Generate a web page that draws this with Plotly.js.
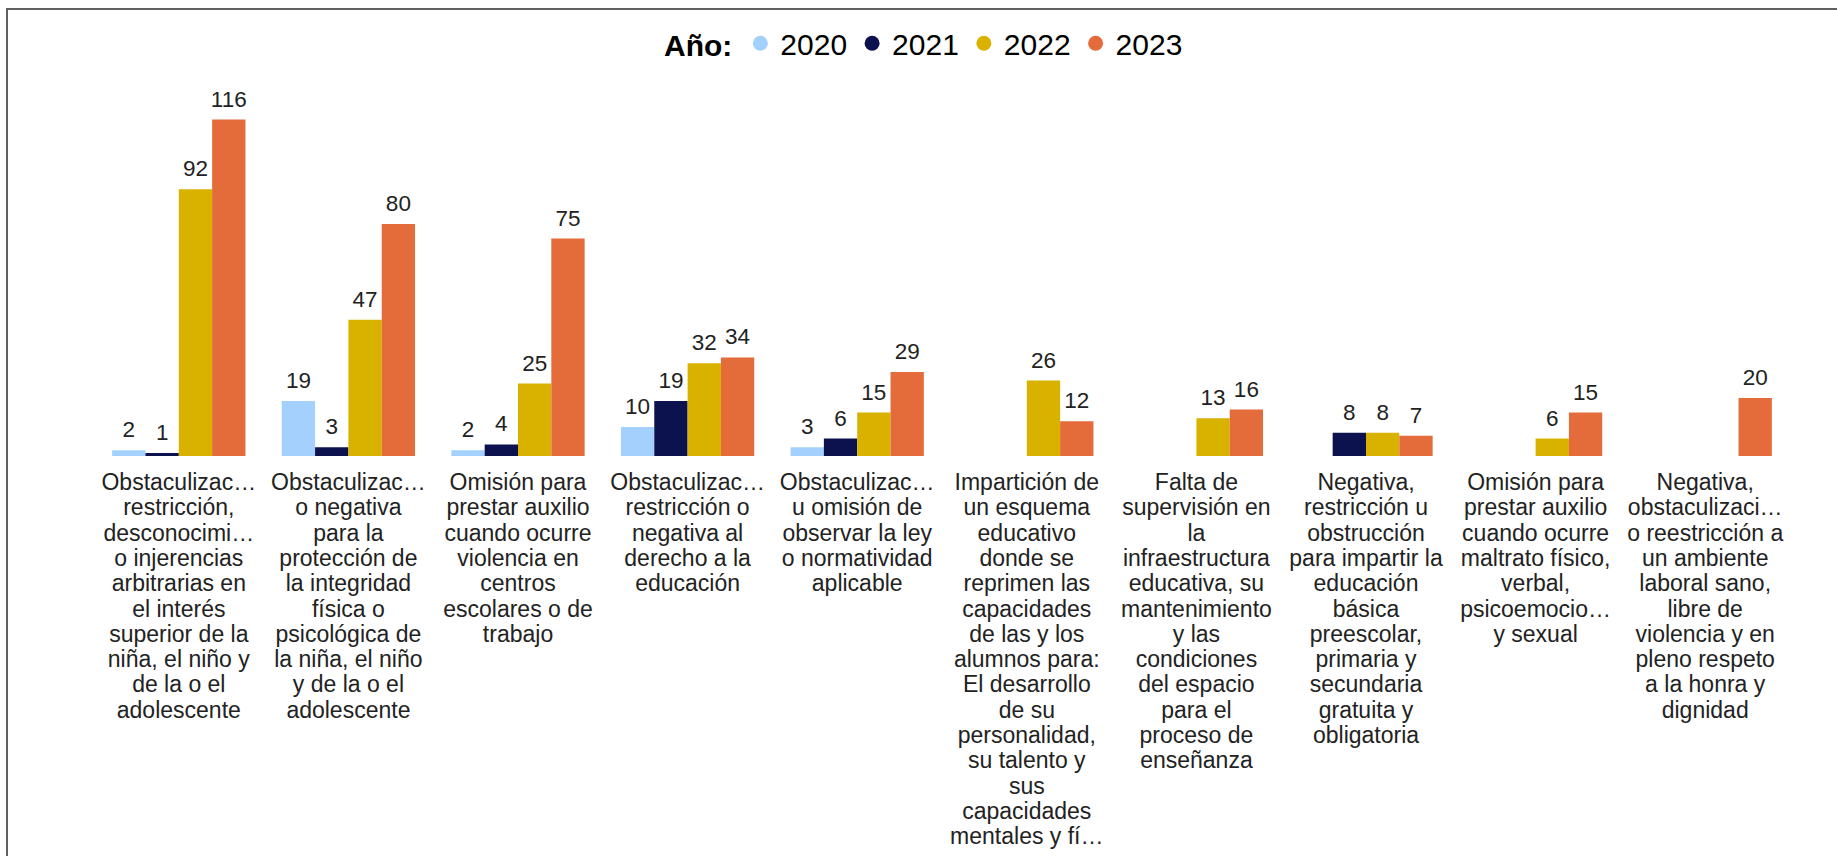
<!DOCTYPE html>
<html>
<head>
<meta charset="utf-8">
<script src="https://cdn.plot.ly/plotly-3.0.1.min.js"></script>
<style>
  html, body { margin: 0; padding: 0; background: #ffffff; }
  #wrap { position: relative; width: 1837px; height: 856px; overflow: hidden; }
  #chart { position: absolute; left: 0; top: 0; width: 1837px; height: 856px; }
  #frame { position: absolute; left: 6px; top: 8px; right: -10px; bottom: -10px;
           border-top: 2px solid #5f5f5f; border-left: 2px solid #5f5f5f; pointer-events: none; }
</style>
</head>
<body>
<div id="wrap">
  <div id="chart"></div>
  <div id="frame"></div>
</div>
<script>
// ---- Data ----
const categories = [
  "Obstaculizac…<br>restricción,<br>desconocimi…<br>o injerencias<br>arbitrarias en<br>el interés<br>superior de la<br>niña, el niño y<br>de la o el<br>adolescente",
  "Obstaculizac…<br>o negativa<br>para la<br>protección de<br>la integridad<br>física o<br>psicológica de<br>la niña, el niño<br>y de la o el<br>adolescente",
  "Omisión para<br>prestar auxilio<br>cuando ocurre<br>violencia en<br>centros<br>escolares o de<br>trabajo",
  "Obstaculizac…<br>restricción o<br>negativa al<br>derecho a la<br>educación",
  "Obstaculizac…<br>u omisión de<br>observar la ley<br>o normatividad<br>aplicable",
  "Impartición de<br>un esquema<br>educativo<br>donde se<br>reprimen las<br>capacidades<br>de las y los<br>alumnos para:<br>El desarrollo<br>de su<br>personalidad,<br>su talento y<br>sus<br>capacidades<br>mentales y fí…",
  "Falta de<br>supervisión en<br>la<br>infraestructura<br>educativa, su<br>mantenimiento<br>y las<br>condiciones<br>del espacio<br>para el<br>proceso de<br>enseñanza",
  "Negativa,<br>restricción u<br>obstrucción<br>para impartir la<br>educación<br>básica<br>preescolar,<br>primaria y<br>secundaria<br>gratuita y<br>obligatoria",
  "Omisión para<br>prestar auxilio<br>cuando ocurre<br>maltrato físico,<br>verbal,<br>psicoemocio…<br>y sexual",
  "Negativa,<br>obstaculizaci…<br>o reestricción a<br>un ambiente<br>laboral sano,<br>libre de<br>violencia y en<br>pleno respeto<br>a la honra y<br>dignidad"
];
const years = ["2020", "2021", "2022", "2023"];
const values2020 = [2, 19, 2, 10, 3, null, null, null, null, null];
const values2021 = [1, 3, 4, 19, 6, null, null, 8, null, null];
const values2022 = [92, 47, 25, 32, 15, 26, 13, 8, 6, null];
const values2023 = [116, 80, 75, 34, 29, 12, 16, 7, 15, 20];
const legendTitle = "Año:";

// ---- Styles ----
const colors = ["#A3D0FC", "#0B124E", "#D9B200", "#E46B3A"];
const FONT = "Liberation Sans, Arial, sans-serif";
const TEXT_COLOR = "#222222";

const series = [values2020, values2021, values2022, values2023];
const traces = [];
series.forEach((vals, i) => {
  traces.push({
    type: "bar",
    name: years[i],
    x: categories,
    y: vals,
    marker: { color: colors[i], line: { width: 0 } },
    text: vals.map(v => v === null ? "" : String(v)),
    textposition: "outside",
    constraintext: "none",
    cliponaxis: false,
    textfont: { family: FONT, size: 22.5, color: TEXT_COLOR },
    showlegend: false,
    hoverinfo: "skip"
  });
});
// legend entries with circular markers
years.forEach((yr, i) => {
  traces.push({
    type: "scatter",
    mode: "markers",
    name: yr,
    x: [null],
    y: [null],
    marker: { color: colors[i], size: 15, symbol: "circle" },
    showlegend: true,
    hoverinfo: "skip"
  });
});

const layout = {
  width: 1837,
  height: 856,
  paper_bgcolor: "#ffffff",
  plot_bgcolor: "#ffffff",
  margin: { l: 93.5, r: 46.5, t: 79, b: 400 },
  barmode: "group",
  bargap: 0.214,
  bargroupgap: 0,
  font: { family: FONT, color: TEXT_COLOR },
  showlegend: true,
  legend: {
    orientation: "h",
    x: 0.49,
    xanchor: "center",
    y: 1.095,
    yanchor: "middle",
    title: { text: "<b>" + legendTitle + "</b>", font: { family: FONT, size: 30, color: "#000000" }, side: "left" },
    font: { family: FONT, size: 30, color: "#000000" },
    itemwidth: 30,
    tracegroupgap: 0,
    bgcolor: "rgba(0,0,0,0)"
  },
  xaxis: {
    type: "category",
    range: [-0.5, 9.5],
    showgrid: false,
    zeroline: false,
    showline: false,
    ticks: "",
    tickangle: 0,
    tickfont: { family: FONT, size: 23, color: TEXT_COLOR },
    ticklabelstandoff: 10,
    fixedrange: true
  },
  yaxis: {
    range: [0, 130],
    showgrid: false,
    zeroline: false,
    showline: false,
    showticklabels: false,
    ticks: "",
    fixedrange: true
  }
};

const LINE_SPACING = 1.1;
const VALUE_LABEL_LIFT = 5;
Plotly.newPlot("chart", traces, layout, { displayModeBar: false, staticPlot: true }).then(gd => {
  gd.querySelectorAll(".xtick text tspan.line").forEach(t => {
    const dy = parseFloat(t.getAttribute("dy"));
    if (!isNaN(dy)) t.setAttribute("dy", (dy / 1.3 * LINE_SPACING) + "em");
  });
  gd.querySelectorAll("text.bartext").forEach(t => {
    const tr = t.getAttribute("transform") || "";
    t.setAttribute("transform", "translate(0,-" + VALUE_LABEL_LIFT + ") " + tr);
  });
});
</script>
</body>
</html>
